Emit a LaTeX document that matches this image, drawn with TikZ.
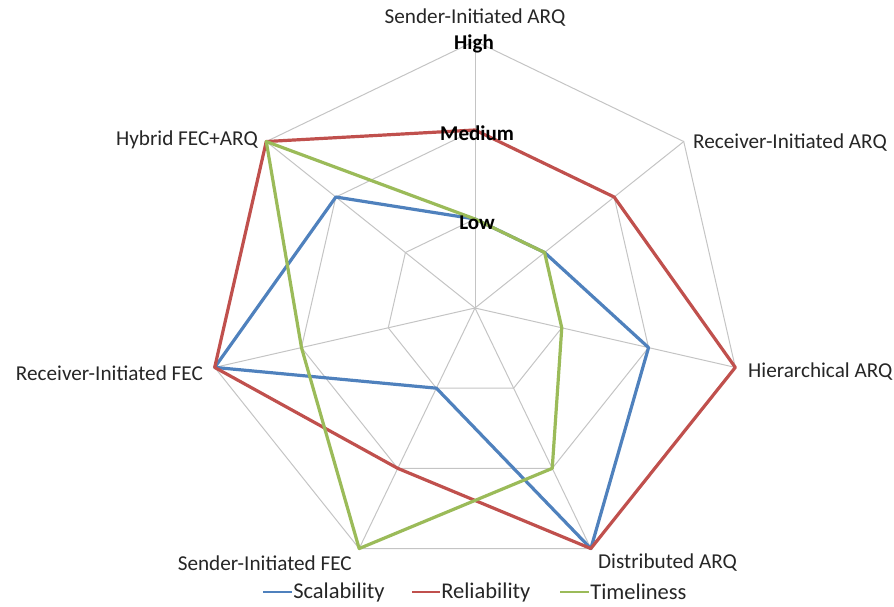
\documentclass[tikz,border=0pt]{standalone}
\usepackage{fontspec}
\setmainfont{Carlito}
\usetikzlibrary{calc}
\definecolor{scalcol}{HTML}{4F81BD}
\definecolor{relicol}{HTML}{C0504D}
\definecolor{timecol}{HTML}{9BBB59}
\definecolor{gridgray}{HTML}{C4C4C4}
\definecolor{labelgray}{HTML}{262626}

\begin{document}
\begin{tikzpicture}[x=1pt,y=1pt,
  gridline/.style={draw=gridgray, line width=1pt},
  series/.style={line width=3.2pt, line join=round},
  axislabel/.style={font=\fontsize{21.2}{24}\selectfont, text=labelgray, inner sep=0pt},
  levellabel/.style={font=\bfseries\fontsize{21}{24}\selectfont, text=black, inner sep=0pt},
  legendlabel/.style={font=\fontsize{22.5}{26}\selectfont, text=labelgray, inner sep=0pt, anchor=west},
  legendline/.style={line width=2.6pt},
]
\useasboundingbox (0,0) rectangle (894,606);

% radar centre and the seven axis directions (clockwise from the top)
\coordinate (c) at (475,298);
\def\u{89}
\begin{scope}[shift={(c)}]
  % web of the three levels
  \foreach \r in {1,2,3} {
    \draw[gridline] (90:\r*\u)
      \foreach \k in {1,...,6} { -- ({90-\k*360/7}:\r*\u) } -- cycle;
  }
  % spokes
  \foreach \k in {0,...,6} {
    \coordinate (ax\k) at ({90-\k*360/7}:3*\u);
    \draw[gridline] (0,0) -- (ax\k);
  }

  % data series: values 1 = Low, 2 = Medium, 3 = High
  \draw[series, scalcol]
    (90:1*\u) -- (38.571:1*\u) -- (-12.857:2*\u) -- (-64.286:3*\u)
    -- (-115.714:1*\u) -- (-167.143:3*\u) -- (141.429:2*\u) -- cycle;
  \draw[series, relicol]
    (90:2*\u) -- (38.571:2*\u) -- (-12.857:3*\u) -- (-64.286:3*\u)
    -- (-115.714:2*\u) -- (-167.143:3*\u) -- (141.429:3*\u) -- cycle;
  \draw[series, timecol]
    (90:1*\u) -- (38.571:1*\u) -- (-12.857:1*\u) -- (-64.286:2*\u)
    -- (-115.714:3*\u) -- (-167.143:2*\u) -- (141.429:3*\u) -- cycle;
\end{scope}

% level labels on the vertical axis
\node[levellabel] (high) at (474,562) {High};
\node[levellabel] (medium) at (477,473) {Medium};
\node[levellabel] (low) at (477,383) {Low};

% category labels
\node[axislabel] (l0) at (475,588) {Sender-Initiated ARQ};
\node[axislabel, anchor=west] (l1) at (693,463) {Receiver-Initiated ARQ};
\node[axislabel, anchor=west] (l2) at (748,234) {Hierarchical ARQ};
\node[axislabel, anchor=west] (l3) at (598,43) {Distributed ARQ};
\node[axislabel, anchor=east] (l4) at (352,43) {Sender-Initiated FEC};
\node[axislabel, anchor=east] (l5) at (203,233) {Receiver-Initiated FEC};
\node[axislabel, anchor=east] (l6) at (258,466) {Hybrid FEC+ARQ};

% legend
\coordinate (k1) at (263,14);
\coordinate (k2) at (412,14);
\coordinate (k3) at (560,14);
\draw[legendline, scalcol] (k1) -- ++(29,0) node[legendlabel] (t1) {Scalability};
\draw[legendline, relicol] (k2) -- ++(28,0) node[legendlabel] (t2) {Reliability};
\draw[legendline, timecol] (k3) -- ++(29,0) node[legendlabel] (t3) {Timeliness};
\end{tikzpicture}
\end{document}
